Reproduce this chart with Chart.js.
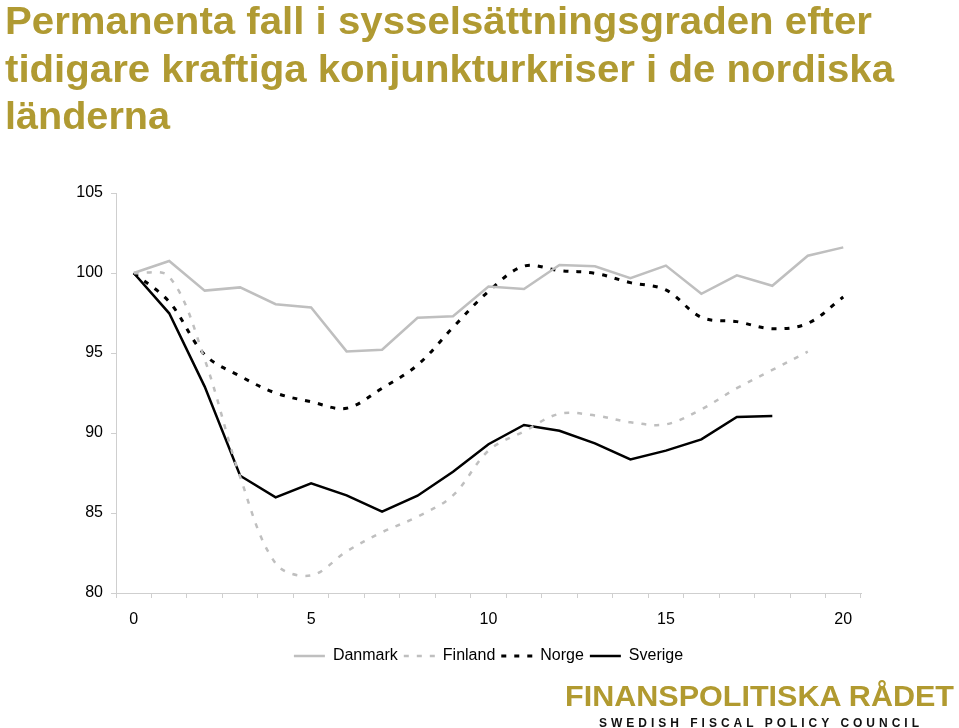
<!DOCTYPE html>
<html lang="sv">
<head>
<meta charset="utf-8">
<title>Sysselsättningsgrad nordiska kriser</title>
<script src="https://cdn.jsdelivr.net/npm/chart.js@4.4.1/dist/chart.umd.min.js"></script>
<style>
    html, body { margin: 0; padding: 0; background: #fff; }
    body { width: 959px; height: 728px; position: relative; overflow: hidden; font-family: 'Liberation Sans', Arial, sans-serif; }
    #chartWrap { position: absolute; left: 0; top: 0; width: 959px; height: 728px; }
    .title-line { position: absolute; left: 5px; font-size: 38px; line-height: 38px; font-weight: bold; color: #b09a32; white-space: nowrap; display: inline-block; transform-origin: left top; }
    #logo { position: absolute; left: 565px; top: 681px; font-size: 30px; line-height: 30px; font-weight: bold; color: #b19a30; white-space: nowrap; display: inline-block; transform-origin: left top; }
    #logoSub { position: absolute; left: 599px; top: 717px; font-size: 12px; line-height: 12px; font-weight: bold; color: #111; white-space: nowrap; display: inline-block; }
</style>
</head>
<body>
<div id="chartWrap"><canvas id="chart" width="959" height="728"></canvas></div>
<div class="title-line" id="t1" style="top:2px" data-w="867">Permanenta fall i sysselsättningsgraden efter</div>
<div class="title-line" id="t2" style="top:49.5px" data-w="889">tidigare kraftiga konjunkturkriser i de nordiska</div>
<div class="title-line" id="t3" style="top:97px" data-w="165">länderna</div>
<div id="logo">FINANSPOLITISKA RÅDET</div>
<div id="logoSub">SWEDISH FISCAL POLICY COUNCIL</div>
<script>
// år efter krisens start (index = 100 vid år 0)
const years = ['0', '1', '2', '3', '4', '5', '6', '7', '8', '9', '10',
               '11', '12', '13', '14', '15', '16', '17', '18', '19', '20'];
const shownYears = ['0', '5', '10', '15', '20'];
const yTicks = [80, 85, 90, 95, 100, 105];

const danmark = [100, 100.75, 98.9, 99.1, 98.05, 97.85, 95.1, 95.2, 97.2, 97.3, 99.15,
                 99.0, 100.5, 100.42, 99.67, 100.46, 98.7, 99.85, 99.2, 101.08, 101.6];
const finland = [100, 99.77, 94.6, 87.25, 81.85, 81.1, 82.6, 83.8, 84.77, 86.1, 88.9,
                 90.1, 91.2, 91.1, 90.67, 90.54, 91.48, 92.8, 93.94, 95.08, null];
const norge = [100, 98.2, 94.9, 93.55, 92.5, 91.95, 91.55, 92.8, 94.25, 96.6, 98.85,
               100.43, 100.15, 99.98, 99.4, 98.94, 97.23, 96.96, 96.52, 96.85, 98.5];
const sverige = [100, 97.48, 92.9, 87.33, 85.98, 86.85, 86.1, 85.08, 86.08, 87.58, 89.3,
                 90.5, 90.14, 89.35, 88.35, 88.9, 89.6, 91.0, 91.06, null, null];

// --- Titel och logotyp: sträck ut texten till referensens bredd ---
document.querySelectorAll('.title-line').forEach(el => {
    const w = el.getBoundingClientRect().width;
    el.style.transform = `scaleX(${Number(el.dataset.w) / w})`;
});
(() => {
    const logo = document.getElementById('logo');
    logo.style.transform = `scaleX(${389 / logo.getBoundingClientRect().width})`;
    const sub = document.getElementById('logoSub');
    const n = sub.textContent.length;
    const w = sub.getBoundingClientRect().width;
    sub.style.letterSpacing = ((320 - w) / (n - 1)) + 'px';
})();

const axisGrey = '#cfcfcf';
const tickFont = { family: "'Liberation Sans', Arial, sans-serif", size: 16 };

new Chart(document.getElementById('chart'), {
    type: 'line',
    data: {
        labels: years,
        datasets: [
            { label: 'Danmark', data: danmark, borderColor: '#bfbfbf', borderWidth: 2.5, tension: 0 },
            { label: 'Finland', data: finland, borderColor: '#bfbfbf', borderWidth: 2.5, borderDash: [5, 8], tension: 0.35 },
            { label: 'Norge', data: norge, borderColor: '#000', borderWidth: 3, borderDash: [5, 8], tension: 0.35 },
            { label: 'Sverige', data: sverige, borderColor: '#000', borderWidth: 2.5, tension: 0 }
        ]
    },
    options: {
        responsive: false,
        animation: false,
        devicePixelRatio: 1,
        elements: { point: { radius: 0, hoverRadius: 0 } },
        layout: { padding: { top: 193, left: 0, right: 98, bottom: 54 } },
        scales: {
            x: {
                type: 'category',
                offset: true,
                grid: { offset: true, drawOnChartArea: false, drawTicks: true, tickLength: 5, color: axisGrey },
                border: { color: axisGrey },
                ticks: {
                    autoSkip: false,
                    maxRotation: 0,
                    padding: 12,
                    color: '#000',
                    font: tickFont,
                    callback: (v, i) => shownYears.includes(years[i]) ? years[i] : ''
                },
                afterFit: scale => { scale.height = 49; }
            },
            y: {
                min: 80,
                max: 105,
                afterBuildTicks: scale => { scale.ticks = yTicks.map(v => ({ value: v })); },
                grid: { drawOnChartArea: false, drawTicks: true, tickLength: 5, color: axisGrey },
                border: { color: axisGrey },
                ticks: { padding: 8, color: '#000', font: tickFont },
                afterFit: scale => { scale.width = 116; }
            }
        },
        plugins: {
            tooltip: { enabled: false },
            legend: {
                position: 'bottom',
                fullSize: false,
                labels: {
                    usePointStyle: true,
                    pointStyle: 'line',
                    pointStyleWidth: 31,
                    boxHeight: 16,
                    padding: 6,
                    color: '#000',
                    font: tickFont,
                    // linjestil i förklaringen ska följa dataseriens streckning
                    generateLabels: chart => Chart.defaults.plugins.legend.labels.generateLabels(chart).map(item => {
                        const ds = chart.data.datasets[item.datasetIndex];
                        return { ...item, lineDash: ds.borderDash || [], lineWidth: ds.borderWidth, strokeStyle: ds.borderColor };
                    })
                }
            }
        }
    }
});
</script>
</body>
</html>
